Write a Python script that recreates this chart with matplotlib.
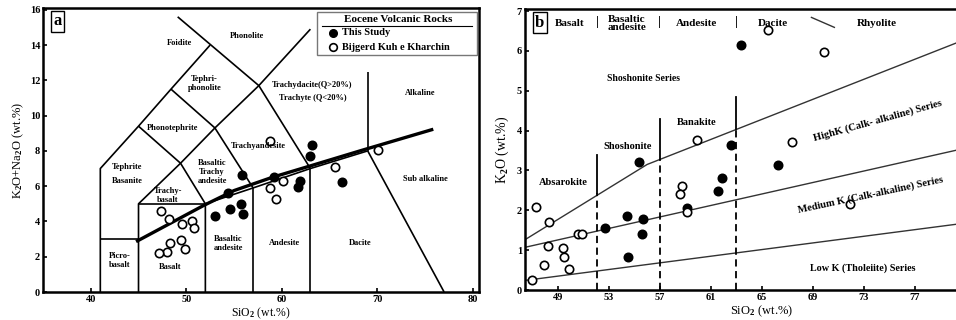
import numpy as np
import matplotlib.pyplot as plt

plt.rcParams['font.family'] = ['Liberation Serif', 'DejaVu Serif']
plt.rcParams['font.weight'] = 'bold'
plt.rcParams['mathtext.fontset'] = 'custom'
plt.rcParams['mathtext.rm'] = 'Liberation Serif:bold'
plt.rcParams['mathtext.default'] = 'rm'

# ---------------- panel a : TAS diagram ----------------
# this study (filled)
a_study_sio2 = [63.2, 63.0, 66.3, 61.9, 61.7, 59.2, 55.8, 54.4, 55.7, 54.6, 55.9, 53.0]
a_study_alk = [8.35, 7.7, 6.23, 6.27, 5.93, 6.52, 6.65, 5.64, 5.0, 4.7, 4.4, 4.3]
# Bijgerd Kuh e Kharchin (open)
a_bk_sio2 = [58.8, 65.6, 60.1, 58.8, 59.4, 70.1, 47.4, 48.2, 49.6, 50.6, 50.8, 48.3, 49.4, 49.9, 48.0, 47.1]
a_bk_alk = [8.54, 7.08, 6.31, 5.89, 5.28, 8.07, 4.6, 4.15, 3.86, 4.05, 3.62, 2.8, 2.95, 2.43, 2.29, 2.23]

# field boundaries (SiO2, Na2O+K2O)
tas_lines = [
    [(41, 0), (41, 7), (45, 9.4), (48.4, 11.5), (52.5, 14)],
    [(49.1, 15.6), (57.6, 11.7), (63, 7)],
    [(45, 0), (45, 5), (49.4, 7.3), (53, 9.3), (57.6, 11.7), (63, 14.9)],
    [(41, 3), (45, 3)],
    [(45, 5), (52, 5)],
    [(52, 0), (52, 5), (57, 5.9), (63, 7), (69, 8)],
    [(57, 0), (57, 5.9)],
    [(63, 0), (63, 7)],
    [(49.4, 7.3), (52, 5)],
    [(53, 9.3), (57, 5.9)],
    [(69, 8), (77, 0)],
    [(69, 8), (69, 12.5)],
    [(45, 9.4), (49.4, 7.3)],
    [(48.4, 11.5), (53, 9.3)],
]

# alkaline / sub-alkaline divide
alk_x = [44.9, 51.8, 55.0, 59.0, 63.0, 68.5, 75.7]
alk_y = [2.9, 4.9, 5.75, 6.5, 7.15, 8.05, 9.2]

tas_labels = [
    ('Foidite', 49.3, 14.1), ('Phonolite', 56.4, 14.5),
    ('Tephri-\nphonolite', 51.9, 11.8), ('Phonotephrite', 48.6, 9.3),
    ('Trachydacite(Q>20%)', 63.2, 11.76), ('Trachyte (Q<20%)', 63.3, 11.0),
    ('Alkaline', 74.5, 11.3), ('Sub alkaline', 75.0, 6.4),
    ('Trachyandesite', 57.5, 8.25), ('Basaltic\nTrachy\nandesite', 52.7, 6.8),
    ('Tephrite', 43.8, 7.1), ('Basanite', 43.8, 6.3),
    ('Trachy-\nbasalt', 48.1, 5.45), ('Picro-\nbasalt', 43.0, 1.8),
    ('Basalt', 48.3, 1.4), ('Basaltic\nandesite', 54.4, 2.75),
    ('Andesite', 60.3, 2.8), ('Dacite', 68.2, 2.8),
]

# ---------------- panel b : K2O vs SiO2 ----------------
b_study_sio2 = [63.4, 62.6, 66.3, 61.9, 61.6, 55.4, 54.4, 55.7, 52.7, 55.6, 54.5, 59.1]
b_study_k2o = [6.14, 3.63, 3.13, 2.82, 2.49, 3.2, 1.86, 1.78, 1.55, 1.4, 0.84, 2.06]
b_bk_sio2 = [65.5, 69.9, 67.4, 71.9, 47.3, 48.3, 50.6, 50.9, 48.2, 49.4, 47.9, 49.5,
             49.9, 47.0, 58.7, 58.6, 59.1, 59.9]
b_bk_k2o = [6.52, 5.96, 3.72, 2.15, 2.09, 1.71, 1.4, 1.4, 1.11, 1.06, 0.63, 0.82,
            0.52, 0.25, 2.61, 2.42, 1.96, 3.76]

# series boundaries
sho_x = [46.4, 56.0, 81.0]
sho_y = [1.26, 3.15, 6.29]
hk_x = [46.4, 81.0]
hk_y = [1.07, 3.56]
lk_x = [46.4, 81.0]
lk_y = [0.24, 1.68]

# vertical dividers: x, top of dashed part, top of solid part
div_x = [52.1, 57.0, 63.0]
div_dash_top = [2.43, 3.28, 4.03]
div_solid_top = [3.4, 4.3, 4.84]

rock_names = ['Basalt', 'Basaltic\nandesite', 'Andesite', 'Dacite', 'Rhyolite']
rock_x = [49.9, 54.4, 59.9, 65.9, 74.0]
bar_x = [52.1, 57.0, 63.0]

fig = plt.figure(figsize=(9.56, 3.2), dpi=100)

# ===== panel a =====
ax = fig.add_axes([0.045, 0.0875, 0.456, 0.8875])
for seg in tas_lines:
    xs, ys = zip(*seg)
    ax.plot(xs, ys, color='black', lw=1.2, solid_capstyle='butt')
ax.plot(alk_x, alk_y, color='black', lw=2.4)
for txt, x, y in tas_labels:
    ax.text(x, y, txt, fontsize=6, ha='center', va='center', linespacing=1.2)
ax.plot(a_study_sio2, a_study_alk, 'o', ms=6, mfc='black', mec='black', mew=1.2, ls='none')
ax.plot(a_bk_sio2, a_bk_alk, 'o', ms=6, mfc='white', mec='black', mew=1.2, ls='none')

ax.set_xlim(35, 80.65)
ax.set_ylim(0, 16.1)
ax.set_xticks([40, 50, 60, 70, 80])
ax.set_yticks(range(0, 17, 2))
ax.tick_params(direction='in', length=3, width=1.2, labelsize=7.5, pad=2)
for s in ax.spines.values():
    s.set_linewidth(1.8)
ax.set_xlabel('SiO$_2$ (wt.%)', fontsize=8.5, labelpad=1)
ax.set_ylabel('K$_2$O+Na$_2$O (wt.%)', fontsize=9, labelpad=3)
ax.text(0.033, 0.954, 'a', transform=ax.transAxes, fontsize=12, ha='center', va='center',
        bbox=dict(boxstyle='square,pad=0.15', fc='white', ec='black', lw=1))

# legend drawn by hand
ax.add_patch(plt.Rectangle((0.628, 0.835), 0.367, 0.151, transform=ax.transAxes,
                           fc='white', ec='#777777', lw=1, zorder=5))
ax.text(0.814, 0.961, 'Eocene Volcanic Rocks', transform=ax.transAxes, fontsize=8,
        ha='center', va='center', zorder=6)
ax.plot([0.64, 0.984], [0.938, 0.938], transform=ax.transAxes, color='black', lw=0.8, zorder=6)
ax.plot([0.665], [0.913], 'o', ms=5.5, mfc='black', mec='black', transform=ax.transAxes, zorder=6)
ax.plot([0.665], [0.862], 'o', ms=5.5, mfc='white', mec='black', mew=1.2,
        transform=ax.transAxes, zorder=6)
ax.text(0.686, 0.913, 'This Study', transform=ax.transAxes, fontsize=7.5, va='center', zorder=6)
ax.text(0.686, 0.862, 'Bijgerd Kuh e Kharchin', transform=ax.transAxes, fontsize=7.5,
        va='center', zorder=6)

# ===== panel b =====
bx = fig.add_axes([0.549, 0.09375, 0.461, 0.878])
bx.plot(sho_x, sho_y, color='#333333', lw=1)
bx.plot(hk_x, hk_y, color='#333333', lw=1)
bx.plot(lk_x, lk_y, color='#333333', lw=1)
for x, d, s in zip(div_x, div_dash_top, div_solid_top):
    bx.plot([x, x], [0, d], color='black', lw=1.3, ls=(0, (4, 2.5)))
    bx.plot([x, x], [d, s], color='black', lw=1.3)
bx.plot(b_study_sio2, b_study_k2o, 'o', ms=6, mfc='black', mec='black', mew=1.2, ls='none')
bx.plot(b_bk_sio2, b_bk_k2o, 'o', ms=6, mfc='white', mec='black', mew=1.2, ls='none')

for name, x in zip(rock_names, rock_x):
    bx.text(x, 6.69, name, fontsize=8, ha='center', va='center', linespacing=0.95)
for x in bar_x:
    bx.text(x, 6.72, '|', fontsize=9, ha='center', va='center')
bx.plot([68.9, 70.7], [6.84, 6.59], color='#333333', lw=1)

bx.text(55.7, 5.3, 'Shoshonite Series', fontsize=7, ha='center', va='center')
bx.text(59.9, 4.2, 'Banakite', fontsize=7.5, ha='center', va='center')
bx.text(54.5, 3.6, 'Shoshonite', fontsize=7.5, ha='center', va='center')
bx.text(49.4, 2.7, 'Absarokite', fontsize=7.5, ha='center', va='center')
bx.text(74.1, 4.26, 'HighK (Calk- alkaline) Series', fontsize=7.6, ha='center', va='center',
        rotation=15.5, rotation_mode='anchor')
bx.text(73.5, 2.38, 'Medium K (Calk-alkaline) Series', fontsize=7.6, ha='center', va='center',
        rotation=12, rotation_mode='anchor')
bx.text(72.9, 0.55, 'Low K (Tholeiite) Series', fontsize=7.3, ha='center', va='center')

bx.set_xlim(46.4, 81.0)
bx.set_ylim(0, 7.05)
bx.set_xticks(range(49, 82, 4))
bx.set_yticks(range(0, 8))
bx.tick_params(direction='in', length=3, width=1.2, labelsize=7.5, pad=2)
for s in bx.spines.values():
    s.set_linewidth(1.8)
bx.set_xlabel('SiO$_2$ (wt.%)', fontsize=9, va='center')
bx.xaxis.set_label_coords(0.537, -0.075)
bx.set_ylabel('K$_2$O (wt.%)', fontsize=10, labelpad=4)
bx.text(0.034, 0.952, 'b', transform=bx.transAxes, fontsize=12, ha='center', va='center',
        bbox=dict(boxstyle='square,pad=0.15', fc='white', ec='black', lw=1))

fig.savefig('out.png', dpi=100)
